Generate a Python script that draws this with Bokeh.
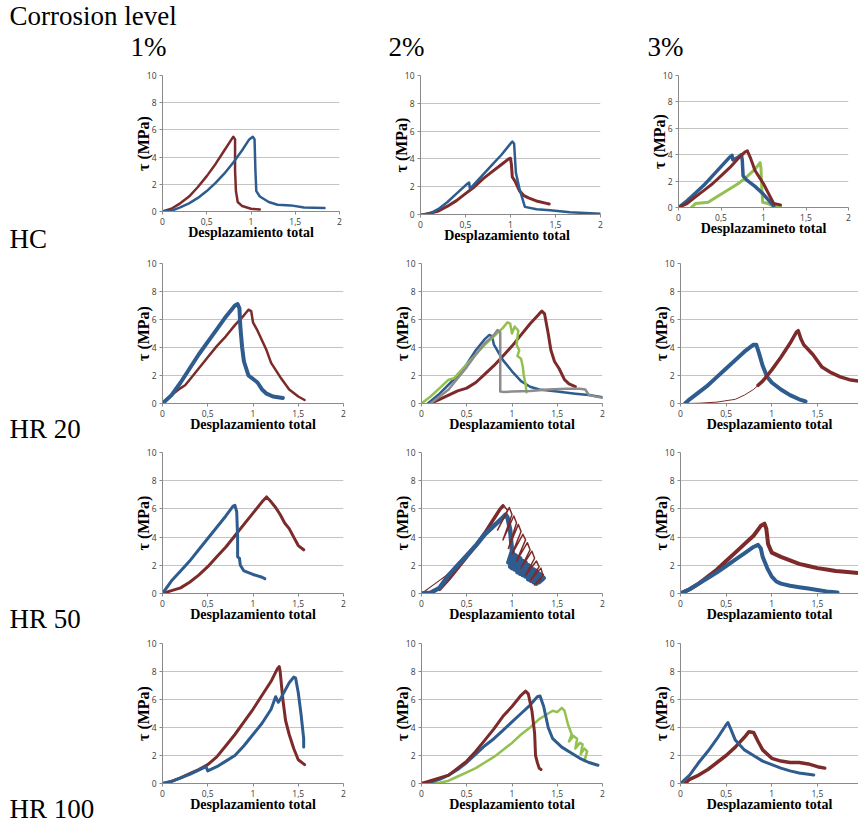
from bokeh.plotting import figure
from bokeh.layouts import row, column
from bokeh.models import Range1d, FixedTicker
from bokeh.embed import file_html
from bokeh.resources import INLINE
from bokeh.core.properties import value

BLUE = "#2E5C8F"
RED = "#7D2B2A"
GREEN = "#93C04E"
GRAY = "#8C8C8C"

x_ticks = [0, 0.5, 1, 1.5, 2]
x_tick_labels = ["0", "0,5", "1", "1,5", "2"]
y_ticks = [0, 2, 4, 6, 8, 10]
y_tick_labels = ["0", "2", "4", "6", "8", "10"]

col_labels = ["1%", "2%", "3%"]
row_labels = ["HC", "HR 20", "HR 50", "HR 100"]
header_label = "Corrosion level"

# ---------------- HC ----------------
hc1_red_x = [0, 0.1, 0.2, 0.3, 0.4, 0.5, 0.6, 0.7, 0.78, 0.8, 0.82, 0.82, 0.83, 0.85, 0.9, 1.0, 1.1]
hc1_red_y = [0, 0.2, 0.6, 1.1, 1.8, 2.6, 3.5, 4.5, 5.3, 5.5, 5.3, 3.0, 1.5, 0.7, 0.4, 0.2, 0.15]
hc1_blue_x = [0, 0.1, 0.2, 0.3, 0.4, 0.5, 0.6, 0.7, 0.8, 0.9, 0.98, 1.02, 1.04, 1.05, 1.06, 1.1, 1.2, 1.3, 1.45, 1.6, 1.83]
hc1_blue_y = [0, 0.05, 0.3, 0.6, 1.0, 1.5, 2.1, 2.8, 3.6, 4.5, 5.3, 5.5, 5.3, 3.0, 1.5, 1.1, 0.7, 0.5, 0.45, 0.3, 0.25]

hc2_blue_x = [0, 0.1, 0.2, 0.3, 0.4, 0.5, 0.54, 0.55, 0.6, 0.7, 0.8, 0.9, 1.0, 1.02, 1.04, 1.06, 1.1, 1.16, 1.29, 1.44, 1.66, 2.0]
hc2_blue_y = [0, 0.05, 0.4, 0.9, 1.5, 2.1, 2.3, 1.85, 2.2, 2.9, 3.6, 4.3, 5.1, 5.25, 5.1, 3.0, 1.85, 0.55, 0.38, 0.3, 0.17, 0.05]
hc2_red_x = [0.05, 0.2, 0.3, 0.4, 0.5, 0.6, 0.7, 0.8, 0.9, 0.98, 1.0, 1.01, 1.02, 1.05, 1.1, 1.15, 1.2, 1.3, 1.4, 1.43]
hc2_red_y = [0, 0.25, 0.6, 1.0, 1.5, 2.0, 2.6, 3.1, 3.6, 4.0, 4.05, 3.6, 2.7, 2.4, 1.7, 1.35, 1.2, 0.95, 0.8, 0.75]

hc3_blue_x = [0, 0.1, 0.2, 0.3, 0.4, 0.5, 0.6, 0.63, 0.64, 0.7, 0.74, 0.75, 0.76, 0.8, 0.9, 1.0, 1.08, 1.12]
hc3_blue_y = [0, 0.5, 1.1, 1.7, 2.4, 3.1, 3.8, 3.95, 3.6, 3.8, 4.0, 3.6, 2.4, 2.1, 1.6, 1.0, 0.4, 0.1]
hc3_red_x = [0, 0.1, 0.2, 0.3, 0.4, 0.5, 0.6, 0.7, 0.78, 0.81, 0.85, 0.9, 0.95, 1.0, 1.08, 1.12, 1.2]
hc3_red_y = [0, 0.3, 0.8, 1.3, 1.8, 2.4, 3.0, 3.7, 4.2, 4.3, 3.7, 2.8, 2.3, 1.8, 0.8, 0.3, 0.2]
hc3_green_x = [0.15, 0.2, 0.35, 0.4, 0.5, 0.6, 0.7, 0.8, 0.9, 0.96, 0.97, 0.98, 0.99, 1.05, 1.12, 1.2]
hc3_green_y = [0, 0.3, 0.4, 0.6, 1.0, 1.4, 1.8, 2.3, 2.9, 3.4, 3.0, 1.5, 0.4, 0.3, 0.1, 0.05]

# ---------------- HR 20 ----------------
h201_blue_x = [0, 0.1, 0.2, 0.3, 0.4, 0.5, 0.6, 0.7, 0.8, 0.83, 0.85, 0.86, 0.88, 0.9, 0.95, 1.05, 1.1, 1.15, 1.22, 1.33]
h201_blue_y = [0, 0.6, 1.5, 2.5, 3.5, 4.4, 5.3, 6.2, 7.0, 7.1, 6.8, 5.5, 4.0, 3.0, 2.0, 1.5, 1.0, 0.7, 0.5, 0.4]
h201_red_x = [0, 0.1, 0.2, 0.25, 0.3, 0.4, 0.5, 0.6, 0.7, 0.8, 0.9, 0.95, 0.98, 1.0, 1.05, 1.15, 1.2, 1.3, 1.4, 1.5, 1.57]
h201_red_y = [0, 0.6, 1.1, 1.3, 1.7, 2.5, 3.3, 4.1, 4.8, 5.6, 6.3, 6.7, 6.6, 5.8, 5.2, 3.8, 2.9, 1.9, 1.0, 0.5, 0.25]

h202_blue_x = [0.07, 0.2, 0.4, 0.5, 0.6, 0.7, 0.75, 0.78, 0.8, 0.9, 1.0, 1.1, 1.2, 1.3, 1.5, 1.7, 1.85, 2.0]
h202_blue_y = [0, 0.7, 2.0, 2.8, 3.8, 4.6, 4.9, 4.8, 4.2, 3.1, 2.3, 1.6, 1.2, 1.0, 0.85, 0.7, 0.6, 0.45]
h202_gray_x = [0.1, 0.3, 0.4, 0.5, 0.6, 0.7, 0.8, 0.84, 0.87, 0.87, 0.9, 1.0, 1.2, 1.4, 1.6, 1.75, 1.81, 1.85, 2.0]
h202_gray_y = [0, 1.0, 1.8, 2.6, 3.5, 4.3, 4.9, 5.25, 5.1, 0.85, 0.83, 0.85, 0.9, 1.0, 1.05, 1.05, 1.0, 0.6, 0.4]
h202_green_x = [0, 0.1, 0.2, 0.3, 0.36, 0.4, 0.5, 0.6, 0.7, 0.8, 0.9, 0.95, 0.98, 1.0, 1.03, 1.07, 1.05, 1.08, 1.06, 1.1, 1.12, 1.13, 1.15, 1.16]
h202_green_y = [0, 0.5, 1.1, 1.7, 1.8, 2.1, 2.8, 3.5, 4.2, 4.8, 5.4, 5.8, 5.7, 5.0, 5.5, 5.2, 4.2, 3.8, 3.4, 3.2, 2.6, 2.0, 1.4, 0.8]
h202_red_x = [0.1, 0.2, 0.3, 0.4, 0.5, 0.6, 0.7, 0.8, 0.9, 1.0, 1.1, 1.2, 1.3, 1.33, 1.36, 1.4, 1.43, 1.47, 1.52, 1.58, 1.63, 1.7]
h202_red_y = [0, 0.3, 0.6, 0.9, 1.1, 1.5, 2.1, 2.7, 3.4, 4.1, 4.9, 5.7, 6.4, 6.6, 6.4, 5.0, 3.8, 3.0, 2.5, 1.7, 1.4, 1.2]

h203_blue_x = [0.05, 0.1, 0.2, 0.3, 0.4, 0.5, 0.6, 0.7, 0.8, 0.83, 0.86, 0.9, 0.95, 1.0, 1.1, 1.2, 1.3, 1.37]
h203_blue_y = [0, 0.3, 0.8, 1.3, 1.9, 2.5, 3.1, 3.7, 4.2, 4.2, 3.6, 2.7, 1.9, 1.5, 1.0, 0.6, 0.3, 0.15]
h203_red_thin_x = [0.05, 0.2, 0.4, 0.6, 0.7, 0.8, 0.9]
h203_red_thin_y = [0, 0.02, 0.1, 0.3, 0.6, 1.0, 1.6]
h203_red_x = [0.85, 0.9, 1.0, 1.1, 1.2, 1.27, 1.29, 1.32, 1.35, 1.45, 1.55, 1.65, 1.75, 1.85, 1.95]
h203_red_y = [1.3, 1.6, 2.4, 3.3, 4.3, 5.1, 5.2, 4.6, 4.2, 3.5, 2.6, 2.2, 1.9, 1.7, 1.6]

# ---------------- HR 50 ----------------
h501_blue_x = [0, 0.1, 0.2, 0.3, 0.4, 0.5, 0.6, 0.7, 0.78, 0.8, 0.82, 0.83, 0.83, 0.85, 0.86, 0.9, 1.0, 1.1, 1.13]
h501_blue_y = [0, 0.9, 1.6, 2.3, 3.1, 3.9, 4.7, 5.5, 6.2, 6.25, 5.8, 4.0, 2.6, 2.5, 2.0, 1.6, 1.35, 1.15, 1.05]
h501_red_x = [0, 0.1, 0.2, 0.3, 0.4, 0.5, 0.6, 0.7, 0.8, 0.9, 1.0, 1.1, 1.15, 1.2, 1.25, 1.3, 1.35, 1.4, 1.45, 1.5, 1.56]
h501_red_y = [0, 0.2, 0.4, 0.8, 1.3, 1.9, 2.6, 3.3, 4.1, 4.9, 5.7, 6.5, 6.85, 6.5, 6.1, 5.6, 5.0, 4.6, 4.0, 3.4, 3.1]

h502_red_thin_x = [0, 0.15, 0.3, 0.4]
h502_red_thin_y = [0, 0.7, 1.4, 2.0]
h502_red_x = [0.2, 0.3, 0.4, 0.5, 0.6, 0.7, 0.8, 0.87, 0.9]
h502_red_y = [0.3, 1.0, 1.8, 2.6, 3.4, 4.3, 5.3, 6.0, 6.2]
h502_red_loop_x = [0.9, 0.95, 0.84, 0.97, 1.0, 0.9, 1.02, 1.05, 0.96, 1.07, 1.1, 1.0, 1.12, 1.15, 1.05, 1.17, 1.2, 1.1, 1.22, 1.25, 1.15, 1.27, 1.3, 1.2, 1.32, 1.34, 1.25, 1.32]
h502_red_loop_y = [6.3, 5.9, 4.5, 6.1, 5.6, 3.8, 5.5, 5.0, 3.2, 4.9, 4.4, 2.8, 4.2, 3.8, 2.3, 3.6, 3.1, 1.8, 3.0, 2.5, 1.3, 2.3, 1.9, 0.9, 1.8, 1.3, 0.6, 1.0]
h502_blue_x = [0, 0.1, 0.2, 0.3, 0.4, 0.5, 0.6, 0.7, 0.8, 0.9, 0.93, 0.95, 0.98, 1.0, 0.96, 1.01, 0.98, 1.04, 1.0, 1.06, 1.03, 1.09, 1.06, 1.12, 1.09, 1.15, 1.12, 1.18, 1.15, 1.21, 1.18, 1.24, 1.21, 1.27, 1.24, 1.3, 1.27, 1.33, 1.3, 1.35, 1.32]
h502_blue_y = [0, 0.05, 0.4, 1.3, 2.0, 2.7, 3.4, 4.2, 4.8, 5.4, 5.6, 5.4, 4.5, 3.0, 2.2, 2.9, 1.9, 2.7, 1.8, 2.6, 1.7, 2.5, 1.5, 2.3, 1.4, 2.2, 1.3, 2.0, 1.2, 1.9, 1.0, 1.7, 0.9, 1.6, 0.8, 1.4, 0.7, 1.3, 0.8, 1.1, 0.9]

h503_red_x = [0, 0.1, 0.2, 0.3, 0.4, 0.5, 0.6, 0.7, 0.8, 0.88, 0.92, 0.94, 0.96, 1.0, 1.1, 1.2, 1.3, 1.4, 1.5, 1.6, 1.7, 1.8, 1.95]
h503_red_y = [0, 0.3, 0.7, 1.2, 1.7, 2.3, 2.9, 3.5, 4.1, 4.8, 4.95, 4.6, 3.5, 2.9, 2.6, 2.35, 2.1, 1.95, 1.8, 1.7, 1.6, 1.55, 1.45]
h503_blue_x = [0, 0.1, 0.2, 0.3, 0.4, 0.5, 0.6, 0.7, 0.8, 0.85, 0.88, 0.9, 0.95, 1.0, 1.05, 1.1, 1.2, 1.3, 1.4, 1.5, 1.6, 1.72]
h503_blue_y = [0, 0.3, 0.7, 1.1, 1.5, 1.95, 2.4, 2.85, 3.3, 3.45, 3.2, 2.6, 1.8, 1.2, 0.85, 0.7, 0.55, 0.45, 0.35, 0.25, 0.15, 0.08]

# ---------------- HR 100 ----------------
h1001_red_x = [0, 0.1, 0.2, 0.3, 0.4, 0.5, 0.6, 0.7, 0.8, 0.9, 1.0, 1.1, 1.2, 1.27, 1.29, 1.3, 1.33, 1.36, 1.4, 1.45, 1.5, 1.57]
h1001_red_y = [0, 0.15, 0.4, 0.7, 1.0, 1.35, 1.9, 2.7, 3.5, 4.4, 5.3, 6.3, 7.3, 8.2, 8.35, 8.0, 6.0, 4.5, 3.5, 2.5, 1.7, 1.35]
h1001_blue_x = [0, 0.1, 0.2, 0.3, 0.4, 0.48, 0.5, 0.6, 0.7, 0.8, 0.9, 1.0, 1.1, 1.2, 1.25, 1.28, 1.3, 1.35, 1.4, 1.45, 1.47, 1.5, 1.53, 1.56, 1.56]
h1001_blue_y = [0, 0.15, 0.4, 0.65, 0.95, 1.2, 0.9, 1.2, 1.6, 2.0, 2.7, 3.5, 4.3, 5.3, 6.2, 5.8, 6.0, 6.6, 7.2, 7.6, 7.55, 6.5, 5.0, 3.2, 2.6]

h1002_red_x = [0, 0.1, 0.2, 0.3, 0.4, 0.5, 0.6, 0.7, 0.8, 0.9, 1.0, 1.1, 1.15, 1.18, 1.22, 1.25, 1.26, 1.28, 1.3, 1.32]
h1002_red_y = [0, 0.2, 0.4, 0.6, 1.1, 1.6, 2.3, 3.1, 3.9, 4.8, 5.5, 6.3, 6.6, 6.4, 5.2, 3.6, 2.0, 1.5, 1.1, 1.0]
h1002_blue_x = [0, 0.1, 0.2, 0.3, 0.4, 0.5, 0.6, 0.7, 0.8, 0.9, 1.0, 1.1, 1.2, 1.28, 1.31, 1.35, 1.4, 1.45, 1.55, 1.65, 1.75, 1.85, 1.95]
h1002_blue_y = [0, 0.1, 0.3, 0.6, 1.0, 1.5, 2.1, 2.7, 3.2, 3.8, 4.4, 5.0, 5.6, 6.2, 6.25, 5.5, 4.0, 3.2, 2.6, 2.2, 1.8, 1.5, 1.3]
h1002_green_x = [0, 0.2, 0.3, 0.4, 0.5, 0.6, 0.7, 0.8, 0.9, 1.0, 1.1, 1.2, 1.3, 1.4, 1.45, 1.5, 1.55, 1.58, 1.62, 1.66, 1.63, 1.68, 1.72, 1.7, 1.75, 1.78, 1.76, 1.8, 1.83, 1.8]
h1002_green_y = [0, 0.05, 0.2, 0.5, 0.8, 1.1, 1.5, 1.9, 2.4, 2.9, 3.5, 4.0, 4.6, 5.0, 5.2, 5.1, 5.4, 5.2, 4.2, 3.5, 3.0, 3.4, 3.2, 2.5, 2.9, 2.8, 2.1, 2.5, 2.3, 1.6]

h1003_blue_x = [0, 0.1, 0.2, 0.3, 0.4, 0.5, 0.52, 0.55, 0.6, 0.7, 0.8, 0.9, 1.0, 1.1, 1.2, 1.3, 1.46]
h1003_blue_y = [0, 0.6, 1.5, 2.3, 3.2, 4.2, 4.35, 3.9, 3.1, 2.4, 2.0, 1.6, 1.35, 1.1, 0.9, 0.75, 0.6]
h1003_red_x = [0.05, 0.1, 0.2, 0.3, 0.4, 0.5, 0.6, 0.7, 0.75, 0.8, 0.85, 0.9, 1.0, 1.1, 1.2, 1.3, 1.4, 1.5, 1.58]
h1003_red_y = [0, 0.3, 0.6, 1.0, 1.5, 2.0, 2.6, 3.3, 3.7, 3.65, 3.0, 2.4, 1.8, 1.6, 1.5, 1.5, 1.4, 1.2, 1.1]

XL = "Desplazamiento total"

TICK_FONT = "Open Sans"
SERIF = "Liberation Serif"


def make_panel(curves, fw, fh, bl, bt, br, bb, xmax, xlabel):
    p = figure(frame_width=fw, frame_height=fh,
               min_border_left=bl, min_border_top=bt,
               min_border_right=br, min_border_bottom=bb,
               x_range=Range1d(0, xmax), y_range=Range1d(0, 10),
               output_backend="svg", toolbar_location=None)
    p.outline_line_color = None
    p.background_fill_color = "white"
    p.border_fill_color = "white"
    p.xgrid.visible = False
    p.ygrid.grid_line_color = "#C4C4C4"
    p.ygrid.grid_line_width = 1
    p.xaxis.ticker = FixedTicker(ticks=x_ticks)
    p.yaxis.ticker = FixedTicker(ticks=y_ticks)
    p.xaxis.major_label_overrides = {t: l for t, l in zip(x_ticks, x_tick_labels)}
    p.yaxis.major_label_overrides = {t: l for t, l in zip(y_ticks, y_tick_labels)}
    for ax in (p.xaxis[0], p.yaxis[0]):
        ax.axis_line_color = "#8A8A8A"
        ax.major_tick_line_color = "#8A8A8A"
        ax.minor_tick_line_color = None
        ax.major_tick_in = 0
        ax.major_tick_out = 3
        ax.major_label_text_font = TICK_FONT
        ax.major_label_text_font_size = "8.5px"
        ax.major_label_text_color = "#3A3A3A"
        ax.axis_label_text_font = SERIF
        ax.axis_label_text_font_style = "bold"
        ax.axis_label_text_color = "black"
    p.xaxis.axis_label = xlabel
    p.xaxis.axis_label_text_font_size = "14px"
    p.xaxis.major_label_standoff = 3
    p.xaxis.axis_label_standoff = -3
    p.yaxis.axis_label = "τ (MPa)"
    p.yaxis.axis_label_text_font_size = "16px"
    p.yaxis.major_label_standoff = 3
    p.yaxis.axis_label_standoff = -8
    for xs, ys, color, w in curves:
        p.line(xs, ys, line_color=color, line_width=w, line_join="round", line_cap="round")
    return p


panels = [
    [
        ([(hc1_red_x, hc1_red_y, RED, 2.5), (hc1_blue_x, hc1_blue_y, BLUE, 2.5)], 177, 136, 40, 15, 41, 35, 2, XL),
        ([(hc2_red_x, hc2_red_y, RED, 3), (hc2_blue_x, hc2_blue_y, BLUE, 2.5)], 180, 139, 40, 15, 38, 32, 2, "Desplazamiento   total"),
        ([(hc3_green_x, hc3_green_y, GREEN, 3), (hc3_blue_x, hc3_blue_y, BLUE, 3.5), (hc3_red_x, hc3_red_y, RED, 3)], 170, 132, 40, 9, 10, 45, 2, "Desplazamineto total"),
    ],
    [
        ([(h201_red_x, h201_red_y, RED, 2.5), (h201_blue_x, h201_blue_y, BLUE, 4)], 181, 140, 40, 17, 37, 32, 2, XL),
        ([(h202_red_x, h202_red_y, RED, 3), (h202_blue_x, h202_blue_y, BLUE, 2.5), (h202_green_x, h202_green_y, GREEN, 2.5), (h202_gray_x, h202_gray_y, GRAY, 2.5)], 181, 140, 41, 17, 36, 32, 2, XL),
        ([(h203_blue_x, h203_blue_y, BLUE, 4), (h203_red_thin_x, h203_red_thin_y, RED, 1), (h203_red_x, h203_red_y, RED, 3.5)], 178, 140, 42, 17, 0, 32, 1.95, XL),
    ],
    [
        ([(h501_red_x, h501_red_y, RED, 3), (h501_blue_x, h501_blue_y, BLUE, 3)], 181, 141, 40, 17, 37, 33, 2, XL),
        ([(h502_red_thin_x, h502_red_thin_y, RED, 1.2), (h502_red_x, h502_red_y, RED, 3.5), (h502_blue_x, h502_blue_y, BLUE, 4.5), (h502_red_loop_x, h502_red_loop_y, RED, 1.5)], 181, 141, 41, 17, 36, 33, 2, XL),
        ([(h503_red_x, h503_red_y, RED, 4), (h503_blue_x, h503_blue_y, BLUE, 4)], 178, 141, 42, 17, 0, 33, 1.95, XL),
    ],
    [
        ([(h1001_red_x, h1001_red_y, RED, 3), (h1001_blue_x, h1001_blue_y, BLUE, 3)], 181, 140, 40, 17, 37, 40, 2, XL),
        ([(h1002_green_x, h1002_green_y, GREEN, 2.5), (h1002_blue_x, h1002_blue_y, BLUE, 3), (h1002_red_x, h1002_red_y, RED, 3)], 181, 140, 41, 17, 36, 40, 2, XL),
        ([(h1003_red_x, h1003_red_y, RED, 3.5), (h1003_blue_x, h1003_blue_y, BLUE, 3)], 178, 140, 42, 17, 0, 40, 1.95, XL),
    ],
]

grid_rows = []
for r in panels:
    grid_rows.append(row(*[make_panel(*spec) for spec in r], spacing=0))
grid = column(*grid_rows, spacing=0)


def blank(w, h, xr, yr):
    f = figure(width=w, height=h, x_range=Range1d(*xr), y_range=Range1d(*yr),
               output_backend="svg", toolbar_location=None, min_border=0)
    f.axis.visible = False
    f.grid.visible = False
    f.outline_line_color = None
    return f


# header (screen-like coordinates, y up)
header = blank(858, 60, (0, 858), (0, 60))
header.text(x=[9], y=[45], text=[header_label], text_font=value(SERIF), text_font_size="27px",
            text_color="black", text_baseline="alphabetic")
header.text(x=[130, 388, 647], y=[14, 14, 14], text=col_labels, text_font=value(SERIF),
            text_font_size="27px", text_color="black", text_baseline="alphabetic")

left = blank(122, 765, (0, 122), (0, 765))
left.text(x=[9, 9, 9, 9], y=[587, 397, 207, 17], text=row_labels, text_font=value(SERIF),
          text_font_size="27px", text_color="black", text_baseline="alphabetic")

page = column(header, row(left, grid, spacing=0), spacing=0)

open("out.html", "w").write(file_html(page, INLINE))
